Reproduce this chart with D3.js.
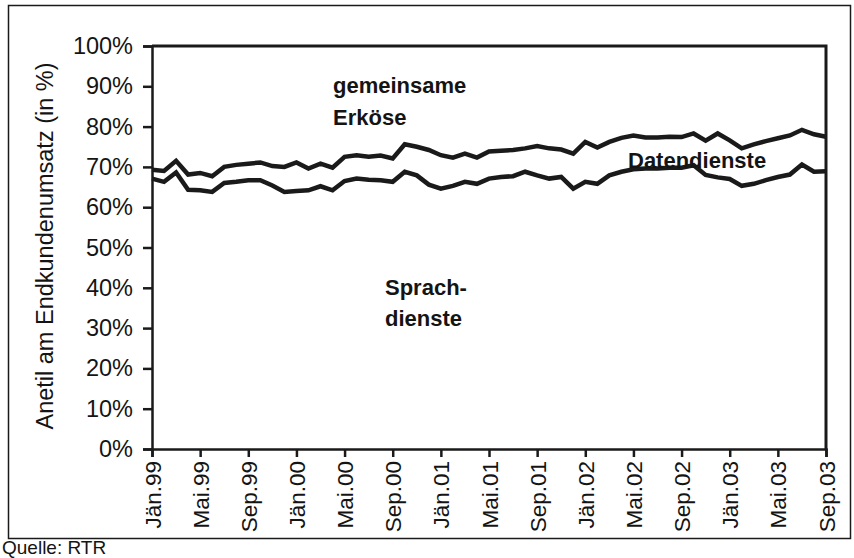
<!DOCTYPE html>
<html>
<head>
<meta charset="utf-8">
<script src="https://cdn.jsdelivr.net/npm/d3@7"></script>
<style>
  body { margin: 0; background: #fff; }
  text { font-family: "Liberation Sans", Arial, sans-serif; fill: #141414; }
</style>
</head>
<body>
<div id="chart"></div>
<script>
// monthly, Jän.99 .. Sep.03
const monthNames = ["Jän", "Feb", "Mär", "Apr", "Mai", "Jun", "Jul", "Aug", "Sep", "Okt", "Nov", "Dez"];
const months = d3.range(57).map(i => monthNames[i % 12] + "." + String((99 + Math.floor(i / 12)) % 100).padStart(2, "0"));

// share of voice services (lower line)
const sprache = [67.1, 66.3, 68.6, 64.3, 64.2, 63.8, 66.0, 66.3, 66.7, 66.7,
  65.4, 63.8, 64.0, 64.2, 65.2, 64.2, 66.5, 67.1, 66.8, 66.7,
  66.3, 68.8, 67.9, 65.6, 64.6, 65.3, 66.3, 65.8, 67.1, 67.5,
  67.7, 68.8, 67.9, 67.1, 67.5, 64.6, 66.3, 65.8, 67.9, 68.8,
  69.4, 69.6, 69.6, 69.8, 69.8, 70.4, 68.0, 67.4, 67.0, 65.3,
  65.8, 66.7, 67.5, 68.1, 70.6, 68.8, 68.9];

// voice + data services (upper line)
const spracheDaten = [69.3, 69.0, 71.5, 68.1, 68.5, 67.7, 70.0, 70.5, 70.8, 71.1,
  70.2, 70.0, 71.1, 69.6, 70.8, 69.8, 72.5, 72.9, 72.5, 72.8,
  72.1, 75.6, 75.0, 74.2, 72.9, 72.3, 73.3, 72.3, 73.8, 74.0,
  74.2, 74.6, 75.2, 74.6, 74.3, 73.3, 76.2, 74.8, 76.2, 77.2,
  77.8, 77.3, 77.3, 77.5, 77.4, 78.3, 76.5, 78.3, 76.6, 74.6,
  75.6, 76.4, 77.1, 77.8, 79.2, 78.1, 77.5];

const yTicks = [0, 10, 20, 30, 40, 50, 60, 70, 80, 90, 100];

const width = 854, height = 558;
const svg = d3.select("#chart")
  .append("svg")
  .attr("width", width)
  .attr("height", height);

// outer frame
svg.append("rect")
  .attr("x", 8.5).attr("y", 5.5)
  .attr("width", 842).attr("height", 533)
  .attr("fill", "none")
  .attr("stroke", "#1a1a1a")
  .attr("stroke-width", 1.5);

const x = d3.scaleLinear().domain([0, months.length - 1]).range([152, 826]);
const y = d3.scaleLinear().domain([0, 100]).range([449, 46]);

// y axis
const yAxis = svg.append("g")
  .attr("transform", "translate(152,0)")
  .call(d3.axisLeft(y).tickValues(yTicks).tickFormat(d => d + "%").tickSize(9).tickPadding(10));
yAxis.selectAll("text").attr("font-size", 23.5);

// x axis, labels every 4 months
const xAxis = svg.append("g")
  .attr("transform", "translate(0,449)")
  .call(d3.axisBottom(x)
    .tickValues(d3.range(0, months.length, 4))
    .tickFormat(i => months[i])
    .tickSize(8));
xAxis.selectAll("text")
  .attr("font-size", 22.5)
  .attr("text-anchor", "end")
  .attr("transform", "rotate(-90)")
  .attr("x", -12)
  .attr("y", 0)
  .attr("dy", "0.36em");

svg.selectAll(".domain, .tick line")
  .attr("stroke", "#1a1a1a")
  .attr("stroke-width", 2.5);

// plot frame top and right
svg.append("path")
  .attr("d", `M${x.range()[0]},${y(100)}H${x.range()[1]}V${y(0)}`)
  .attr("fill", "none")
  .attr("stroke", "#1a1a1a")
  .attr("stroke-width", 3);

// the two lines
const line = d3.line().x((d, i) => x(i)).y(d => y(d));
[sprache, spracheDaten].forEach(s => {
  svg.append("path")
    .datum(s)
    .attr("d", line)
    .attr("fill", "none")
    .attr("stroke", "#1a1a1a")
    .attr("stroke-width", 4.5)
    .attr("stroke-linejoin", "miter");
});

// y axis title
svg.append("text")
  .attr("transform", "translate(53,246) rotate(-90)")
  .attr("text-anchor", "middle")
  .attr("font-size", 23.5)
  .text("Anetil am Endkundenumsatz (in %)");

// area labels
const labels = [
  { t: "gemeinsame", x: 333, y: 93 },
  { t: "Erköse", x: 333, y: 125 },
  { t: "Datendienste", x: 628, y: 168 },
  { t: "Sprach-", x: 385, y: 295 },
  { t: "dienste", x: 385, y: 326 }
];
svg.selectAll(".lbl")
  .data(labels)
  .enter()
  .append("text")
  .attr("x", d => d.x)
  .attr("y", d => d.y)
  .attr("font-size", 22)
  .attr("font-weight", "bold")
  .text(d => d.t);

svg.append("text")
  .attr("x", 2).attr("y", 554)
  .attr("font-size", 19)
  .text("Quelle: RTR");
</script>
</body>
</html>
